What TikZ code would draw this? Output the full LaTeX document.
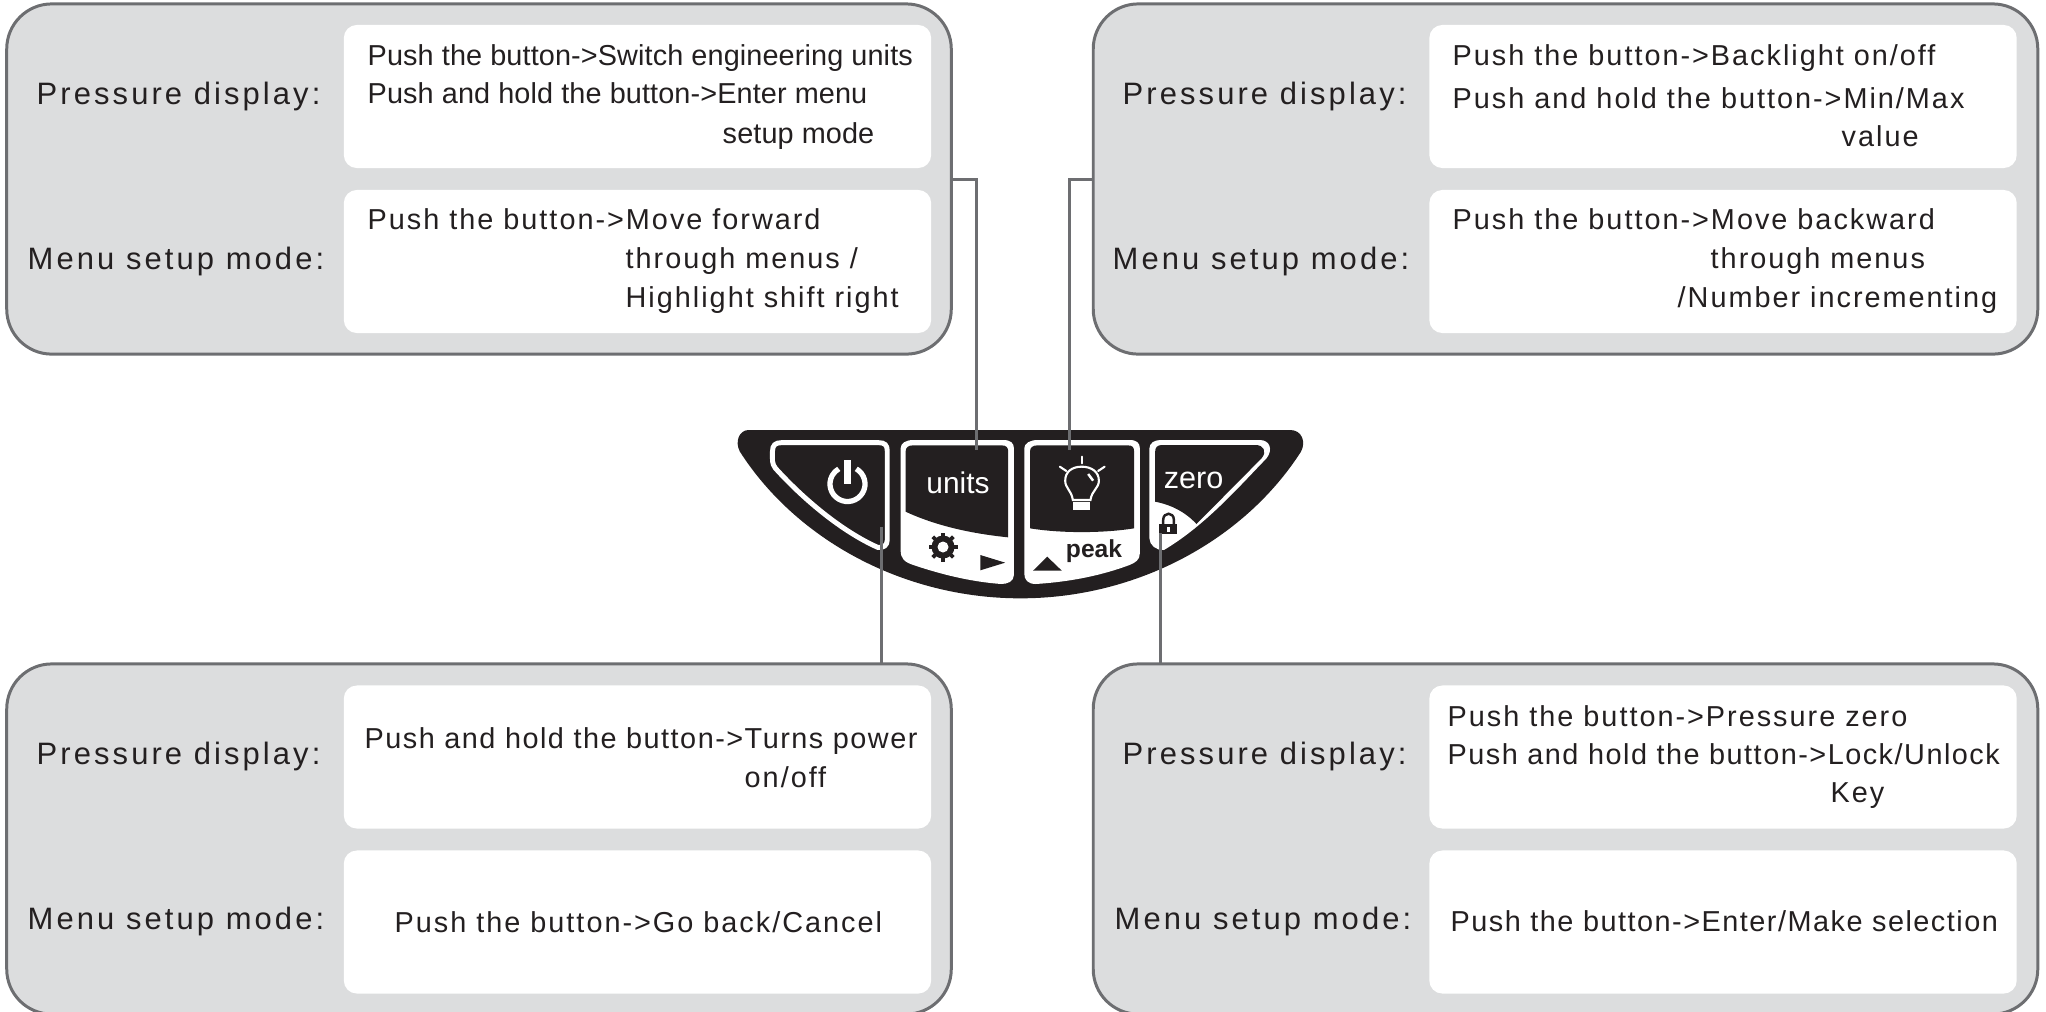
\documentclass[tikz,border=0pt]{standalone}
\usepackage{fontspec}
\setmainfont{Liberation Sans}
\newfontfamily\bodyfont[LetterSpace=0.4]{Liberation Sans}
\newfontfamily\midfont[LetterSpace=5.2]{Liberation Sans}
\newfontfamily\widefont[LetterSpace=6.9]{Liberation Sans}
\newfontfamily\labelfont[LetterSpace=10]{Liberation Sans}
\usetikzlibrary{calc,positioning}
\definecolor{panel1}{HTML}{DCDDDE}
\definecolor{edge1}{HTML}{6D6E71}
\definecolor{ink1}{HTML}{231F20}
\tikzset{
  panelbox/.style={draw=edge1,line width=0.85pt,fill=panel1,rounded corners=0.45cm,minimum width=9.44cm,minimum height=3.5cm,inner sep=0pt,outer sep=0pt},
  whitebox/.style={fill=white,rounded corners=0.13cm,minimum width=5.87cm,minimum height=1.43cm,inner sep=0pt,outer sep=0pt},
  modelabel/.style={anchor=base west,inner sep=0pt,color=ink1,font=\labelfont\fontsize{8.8}{10}\selectfont},
  bodytext/.style={anchor=base west,inner sep=0pt,color=ink1,font=\bodyfont\fontsize{8.2}{9}\selectfont},
  midtext/.style={bodytext,font=\midfont\fontsize{8.2}{9}\selectfont},
  widetext/.style={bodytext,font=\widefont\fontsize{8.2}{9}\selectfont},
  wire/.style={color=edge1,line width=0.85pt},
  keyoutline/.style={draw=white,line width=1.4pt},
  keytext/.style={anchor=base,inner sep=0pt}
}
\begin{document}
\begin{tikzpicture}[x=0.01cm,y=-0.01cm]
\useasboundingbox (0,0) rectangle (2046,1011);

\node[panelbox] (panelTL) at (479,179) {};
\node[panelbox] (panelTR) at (1565.5,179) {};
\node[panelbox] (panelBL) at (479,839) {};
\node[panelbox] (panelBR) at (1565.5,839) {};

\node[whitebox] (whiteTLa) at (637.5,96.5) {};
\node[whitebox] (whiteTLb) at (637.5,261.5) {};
\node[whitebox] (whiteTRa) at (1723,96.5) {};
\node[whitebox] (whiteTRb) at (1723,261.5) {};
\node[whitebox] (whiteBLa) at (637.5,757) {};
\node[whitebox] (whiteBLb) at (637.5,922) {};
\node[whitebox] (whiteBRa) at (1723,757) {};
\node[whitebox] (whiteBRb) at (1723,922) {};

% top left
\node[modelabel] (labelTLa) at (36,104) {Pressure display:};
\node[modelabel] (labelTLb) at (27,269) {Menu setup mode:};
\node[bodytext] (textTLa) at (367,65) {Push the button->Switch engineering units};
\node[bodytext] (textTLb) at (367,103) {Push and hold the button->Enter menu};
\node[bodytext] (textTLc) at (722,143) {setup mode};
\node[widetext] (textTLd) at (367,229) {Push the button->Move forward};
\node[widetext] (textTLe) at (625,268) {through menus /};
\node[widetext] (textTLf) at (625,307) {Highlight shift right};

% top right
\node[modelabel] (labelTRa) at (1122,104) {Pressure display:};
\node[modelabel] (labelTRb) at (1112,269) {Menu setup mode:};
\node[widetext] (textTRa) at (1452,65) {Push the button->Backlight on/off};
\node[widetext] (textTRb) at (1452,108) {Push and hold the button->Min/Max};
\node[widetext] (textTRc) at (1841,146) {value};
\node[widetext] (textTRd) at (1452,229) {Push the button->Move backward};
\node[widetext] (textTRe) at (1710,268) {through menus};
\node[widetext] (textTRf) at (1677,307) {/Number incrementing};

% bottom left
\node[modelabel] (labelBLa) at (36,764) {Pressure display:};
\node[modelabel] (labelBLb) at (27,929) {Menu setup mode:};
\node[midtext] (textBLa) at (364,748) {Push and hold the button->Turns power};
\node[widetext] (textBLb) at (744,787) {on/off};
\node[widetext] (textBLc) at (394,932) {Push the button->Go back/Cancel};

% bottom right
\node[modelabel] (labelBRa) at (1122,764) {Pressure display:};
\node[modelabel] (labelBRb) at (1114,929) {Menu setup mode:};
\node[widetext] (textBRa) at (1447,726) {Push the button->Pressure zero};
\node[midtext] (textBRb) at (1447,764) {Push and hold the button->Lock/Unlock};
\node[widetext] (textBRc) at (1830,802) {Key};
\node[midtext] (textBRd) at (1450,931) {Push the button->Enter/Make selection};

% keypad
\begin{scope}[shift={(720,410)},xscale=0.3827,yscale=0.3333]
\fill[ink1] (75,60) -- (1490,60) .. controls (1520,60) and (1532,95) .. (1518,125) .. controls (1370,390) and (1090,565) .. (785,565) .. controls (480,565) and (200,390) .. (52,125) .. controls (38,95) and (50,60) .. (75,60) -- cycle;

\draw[keyoutline] (160,98) -- (415,98) .. controls (430,98) and (437,105) .. (437,122) -- (437,390) .. controls (437,405) and (428,415) .. (412,412) .. controls (320,365) and (220,270) .. (145,175) .. controls (135,160) and (137,150) .. (137,125) .. controls (137,105) and (145,98) .. (160,98) -- cycle;

\fill[white] (505,90) -- (740,90) .. controls (760,90) and (768,100) .. (768,115) -- (768,495) .. controls (768,515) and (750,522) .. (735,522) .. controls (650,515) and (570,490) .. (505,465) .. controls (480,455) and (472,445) .. (472,420) -- (472,115) .. controls (472,100) and (485,90) .. (505,90) -- cycle;
\fill[ink1] (505,106) -- (735,106) .. controls (748,106) and (753,112) .. (753,125) -- (753,382) .. controls (650,370) and (560,345) .. (485,305) -- (485,125) .. controls (485,112) and (492,106) .. (505,106) -- cycle;

\fill[white] (830,90) -- (1070,90) .. controls (1090,90) and (1097,100) .. (1097,115) -- (1097,430) .. controls (1097,450) and (1085,458) .. (1070,465) .. controls (1000,495) and (920,515) .. (825,522) .. controls (805,522) and (795,510) .. (795,490) -- (795,115) .. controls (795,100) and (810,90) .. (830,90) -- cycle;
\fill[ink1] (830,106) -- (1065,106) .. controls (1078,106) and (1082,112) .. (1082,125) -- (1082,355) .. controls (1000,370) and (890,370) .. (810,355) -- (810,125) .. controls (810,112) and (817,106) .. (830,106) -- cycle;

\fill[white] (1150,90) -- (1410,90) .. controls (1438,90) and (1445,120) .. (1428,145) .. controls (1360,225) and (1270,345) .. (1160,420) .. controls (1140,422) and (1122,405) .. (1122,385) -- (1122,115) .. controls (1122,100) and (1135,90) .. (1150,90) -- cycle;
\fill[ink1] (1155,105) -- (1400,105) .. controls (1420,105) and (1430,125) .. (1415,145) -- (1245,342) .. controls (1215,305) and (1180,285) .. (1137,275) -- (1137,125) .. controls (1137,112) and (1143,105) .. (1155,105) -- cycle;

\fill[ink1] (680,435) -- (745,458) -- (680,481) -- cycle;
\fill[ink1] (818,482) -- (855,440) -- (893,482) -- cycle;

% bulb
\draw[white,line width=0.6pt,line cap=round] (945,140) -- (945,160);
\draw[white,line width=0.6pt,line cap=round] (888,170) -- (905,183);
\draw[white,line width=0.6pt,line cap=round] (1005,170) -- (988,183);
\draw[white,line width=0.6pt] (922,270) .. controls (918,240) and (902,235) .. (902,212) .. controls (902,185) and (920,170) .. (945,170) .. controls (970,170) and (990,185) .. (990,212) .. controls (990,235) and (972,240) .. (968,270) -- cycle;
\fill[white] (922,275) rectangle (968,300);
\draw[white,line width=0.7pt] (962,192) -- (975,212);

% lock
\fill[ink1] (1148,343) rectangle (1195,372);
\draw[ink1,line width=0.7pt] (1158,345) -- (1158,330) .. controls (1158,305) and (1186,305) .. (1186,330) -- (1186,345);
\fill[white] (1168,352) rectangle (1175,366);
\end{scope}

\coordinate (powerC) at (847.5,484);
\draw[white,line width=1.5pt] ([shift={(60:0.175cm)}]powerC) arc[start angle=60,end angle=-240,radius=0.175cm];
\coordinate (powerT) at (847.5,460);
\coordinate (powerB) at (847.5,484);
\draw[white,line width=2.2pt] (powerT) -- (powerB);

\coordinate (gearC) at (943,547);
\foreach \a in {0,45,...,315} {
  \draw[ink1,line width=1.1pt] ([shift={(\a:0.09cm)}]gearC) -- ([shift={(\a:0.145cm)}]gearC);
}
\fill[ink1] (gearC) circle[radius=0.115cm];
\fill[white] (gearC) circle[radius=0.055cm];

\node[keytext,color=white,font=\fontsize{8.5}{10}\selectfont] (keyUnits) at (958,493) {units};
\node[keytext,color=white,font=\fontsize{8.7}{10}\selectfont] (keyZero) at (1193.5,488) {zero};
\node[keytext,color=ink1,font=\bfseries\fontsize{7}{9}\selectfont] (keyPeak) at (1094,557) {peak};

% connectors
\coordinate (unitsEnd) at (976,450);
\coordinate (peakEnd) at (1069,450);
\coordinate (powerEnd) at (881,527);
\coordinate (zeroEnd) at (1160,533);
\draw[wire] (panelTL.east) -| (unitsEnd);
\draw[wire] (panelTR.west) -| (peakEnd);
\draw[wire] (powerEnd) -- (powerEnd |- panelBL.north);
\draw[wire] (zeroEnd) -- (zeroEnd |- panelBR.north);

\end{tikzpicture}
\end{document}
